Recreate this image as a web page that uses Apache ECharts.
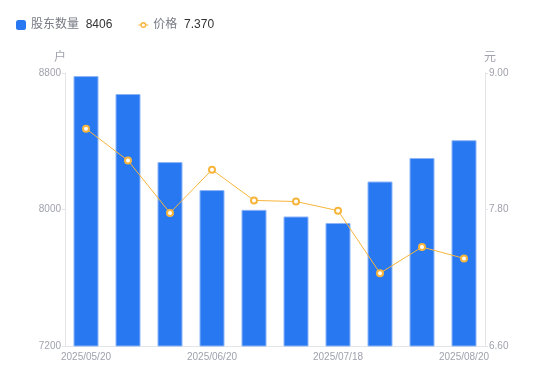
<!DOCTYPE html>
<html><head><meta charset="utf-8">
<script src="https://cdn.jsdelivr.net/npm/echarts@6/dist/echarts.min.js"></script>
<style>html,body{margin:0;padding:0;background:#fff}#c{width:550px;height:381px}</style>
</head><body><div id="c"></div>
<script>
var categories = ['2025/05/20','2025/05/30','2025/06/10','2025/06/20','2025/06/30','2025/07/10','2025/07/18','2025/07/31','2025/08/10','2025/08/20'];
var holders = [8782, 8677, 8278, 8114, 7998, 7959, 7921, 8164, 8302, 8406];
var prices = [8.51, 8.23, 7.77, 8.15, 7.88, 7.87, 7.79, 7.24, 7.47, 7.37];
var leftTicks = [7200, 8000, 8800];
var rightTicks = [6.60, 7.80, 9.00];

var FONT = '"Liberation Sans", "Noto Sans CJK SC", sans-serif';
var chart = echarts.init(document.getElementById('c'));
var latest = {'股东数量': String(holders[holders.length-1]), '价格': prices[prices.length-1].toFixed(3)};
var lineIcon = 'path://M0,4.5 L2.2,4.5 L2.2,5.5 L0,5.5 Z M7.8,4.5 L10,4.5 L10,5.5 L7.8,5.5 Z M2,5 A3,3 0 0 1 8,5 A3,3 0 0 1 2,5 Z M3.4,5 A1.6,1.6 0 0 0 6.6,5 A1.6,1.6 0 0 0 3.4,5 Z';
chart.setOption({
  animation: false,
  textStyle: {fontFamily: FONT},
  legend: {
    left: 11, top: 14, itemWidth: 10, itemHeight: 10, itemGap: 26,
    data: [{name: '股东数量', icon: 'roundRect', itemStyle: {color: '#2878f1', borderWidth: 0}},
           {name: '价格', icon: lineIcon, itemStyle: {color: '#f7b53c', borderWidth: 0}}],
    formatter: function(n){ return '{a|' + n + '}  {b|' + latest[n] + '}'; },
    textStyle: {fontFamily: FONT, rich: {a: {color: '#777a84', fontSize: 12, fontFamily: FONT}, b: {color: '#333', fontSize: 12, fontFamily: FONT}}}
  },
  grid: {left: 65, right: 65, top: 73, bottom: 35},
  xAxis: {
    type: 'category', data: categories,
    axisLine: {lineStyle: {color: '#e3e4e8'}},
    axisTick: {show: false},
    axisLabel: {color: '#a0a2ad', fontSize: 10, interval: 2, margin: 6}
  },
  yAxis: [{
    type: 'value', name: '户', min: leftTicks[0], max: leftTicks[2], interval: leftTicks[1]-leftTicks[0],
    nameTextStyle: {color: '#a0a2ad', fontSize: 12, padding: [0, 10, 0, 0]}, nameGap: 9,
    axisLine: {show: true, lineStyle: {color: '#e3e4e8'}},
    axisTick: {show: true, length: 3, lineStyle: {color: '#e3e4e8'}},
    axisLabel: {color: '#a0a2ad', fontSize: 10, margin: 4, formatter: function(v){ return String(v); }},
    splitLine: {show: false}
  }, {
    type: 'value', name: '元', min: rightTicks[0], max: rightTicks[2], interval: 1.2,
    nameTextStyle: {color: '#a0a2ad', fontSize: 12, padding: [0, 0, 0, 10]}, nameGap: 9,
    axisLine: {show: true, lineStyle: {color: '#e3e4e8'}},
    axisTick: {show: true, length: 3, lineStyle: {color: '#e3e4e8'}},
    axisLabel: {color: '#a0a2ad', fontSize: 10, margin: 4, formatter: function(v){ return v.toFixed(2); }},
    splitLine: {show: false}
  }],
  series: [{
    name: '股东数量', type: 'bar', data: holders, barWidth: 25,
    itemStyle: {color: '#2878f1', borderColor: '#8db5f7', borderWidth: 1}
  }, {
    name: '价格', type: 'line', yAxisIndex: 1, data: prices,
    symbol: 'emptyCircle', symbolSize: 6,
    lineStyle: {color: '#f7b53c', width: 1},
    itemStyle: {color: '#f7b53c', borderWidth: 2}
  }]
});
</script></body></html>
